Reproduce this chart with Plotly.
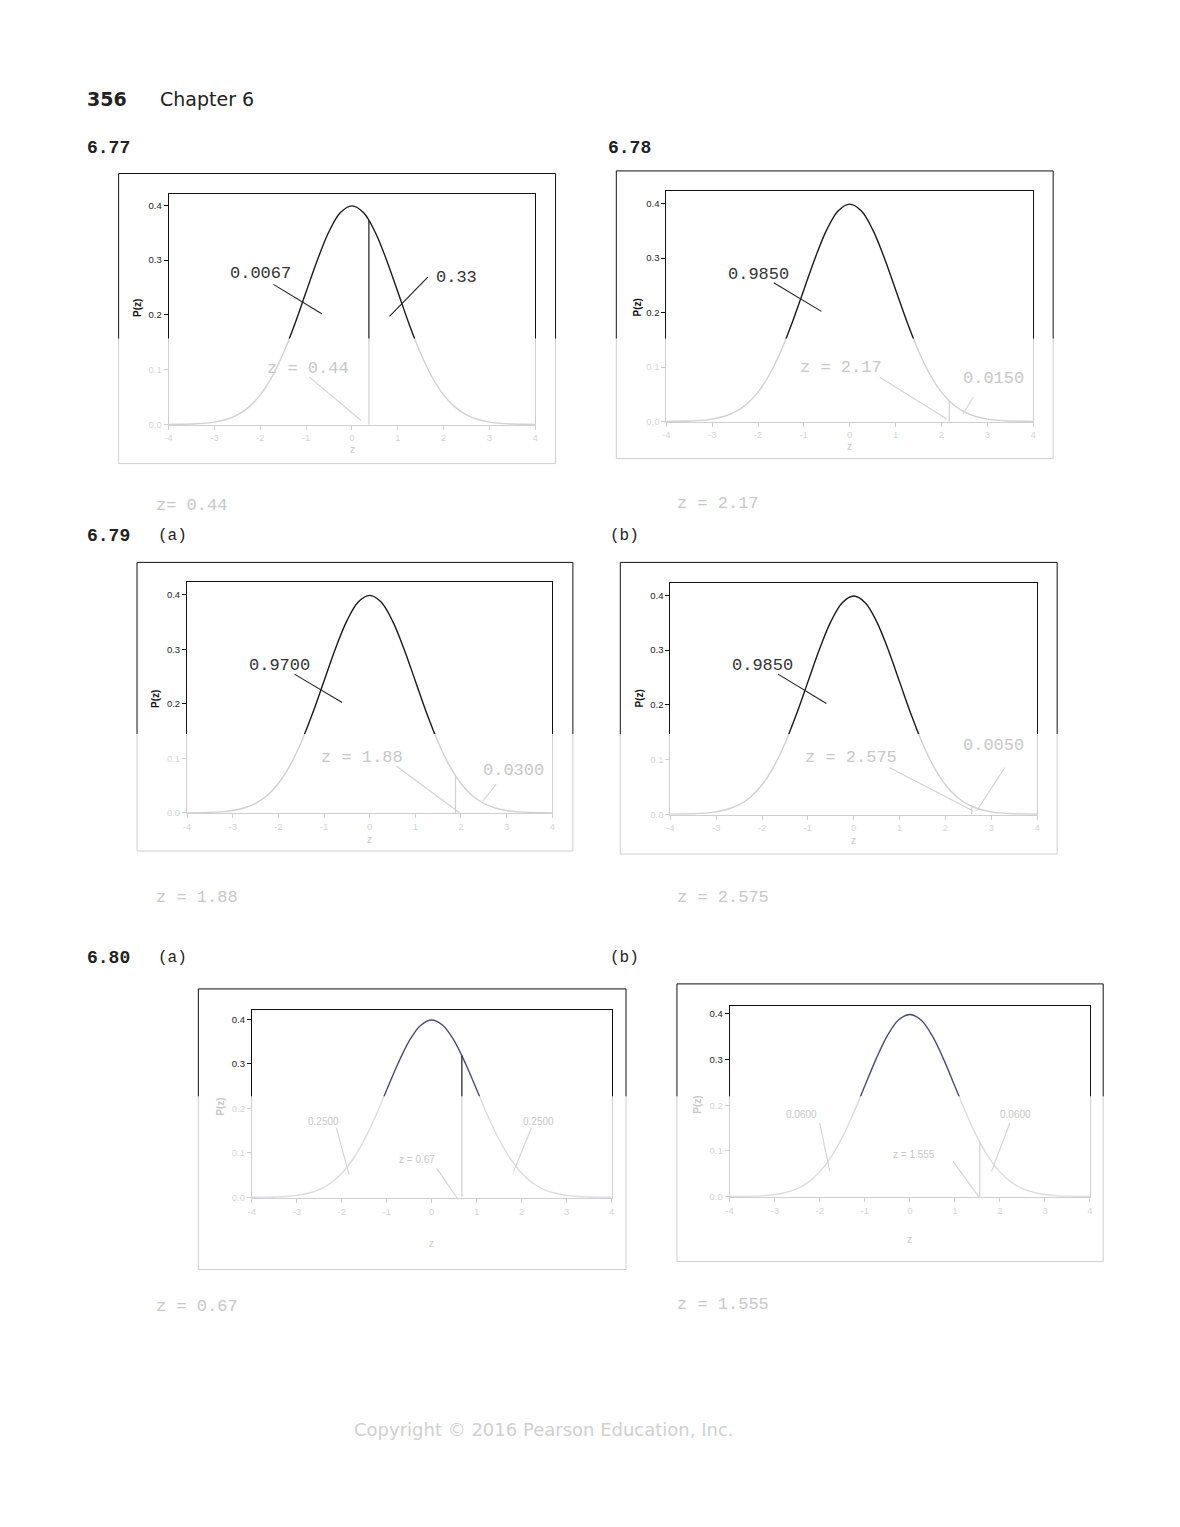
import plotly.graph_objects as go

## page size; the browser puts an 8px margin round the figure
PAGE_W, PAGE_H = 1180, 1527
PAD = 8
FIG_W, FIG_H = PAGE_W - 2 * PAD, PAGE_H - 2 * PAD

## standard normal curve at steps of 0.25
z_vals = [-4.0, -3.75, -3.5, -3.25, -3.0, -2.75, -2.5, -2.25, -2.0, -1.75, -1.5, -1.25, -1.0, -0.75, -0.5, -0.25,
          0.0, 0.25, 0.5, 0.75, 1.0, 1.25, 1.5, 1.75, 2.0, 2.25, 2.5, 2.75, 3.0, 3.25, 3.5, 3.75, 4.0]
pz_vals = [0.0001, 0.0004, 0.0009, 0.0020, 0.0044, 0.0091, 0.0175, 0.0317, 0.0540, 0.0863, 0.1295, 0.1826,
           0.2420, 0.3011, 0.3521, 0.3867, 0.3989, 0.3867, 0.3521, 0.3011, 0.2420, 0.1826, 0.1295, 0.0863,
           0.0540, 0.0317, 0.0175, 0.0091, 0.0044, 0.0020, 0.0009, 0.0004, 0.0001]
x_ticks = [-4, -3, -2, -1, 0, 1, 2, 3, 4]
x_tick_text = ["-4", "-3", "-2", "-1", "0", "1", "2", "3", "4"]
y_ticks = [0.0, 0.1, 0.2, 0.3, 0.4]
y_tick_text = ["0.0", "0.1", "0.2", "0.3", "0.4"]

## one entry per panel: 6.77, 6.78, 6.79(a), 6.79(b), 6.80(a), 6.80(b)
panel_ids = ["6.77", "6.78", "6.79a", "6.79b", "6.80a", "6.80b"]
cut_z = [0.37, 2.17, 1.88, 2.575, 0.67, 1.555]
cut_pz = [0.372, 0.038, 0.068, 0.015, 0.319, 0.119]
left_area = ["0.0067", "0.9850", "0.9700", "0.9850", "0.2500", "0.0600"]
right_area = ["0.33", "0.0150", "0.0300", "0.0050", "0.2500", "0.0600"]
z_label = ["z = 0.44", "z = 2.17", "z = 1.88", "z = 2.575", "z = 0.67", "z = 1.555"]
answers = ["z= 0.44", "z = 2.17", "z = 1.88", "z = 2.575", "z = 0.67", "z = 1.555"]

## page pixels -> paper (small correction measured from the first render)
def fx(px):
    px = (px - 4.8) / 0.9934
    return (px - PAD) / FIG_W

def fy(py):
    py = py / 0.9955
    return 1 - (py - PAD) / FIG_H

FADE = "#c8c8c8"
INK = "#333333"

## layout of each panel in page pixels
## outer frame, inner plot box, y range, label spots (left x, mid y) and leader lines
geo = [
    dict(outer=(119.3, 173.3, 556, 463), inner=(169.3, 193.3, 535.7, 424.5), yr=(-0.001, 0.4213),
         lab_l=(231, 273.3, INK), lead_l=(274, 284, 322.3, 313.3),
         lab_r=(436, 276.7, INK), lead_r=(428.3, 276.7, 390, 316),
         lab_z=(268, 368, FADE), lead_z=(310, 376.7, 361.7, 420),
         ans=(157, 505), xt=(352.7, 449), yt=(138.3, 308, "#111"), excel=False),
    dict(outer=(616.7, 170.7, 1053.3, 458), inner=(666.7, 191, 1033.3, 421.5), yr=(-0.001, 0.4226),
         lab_l=(728.3, 274, INK), lead_l=(774, 282.3, 821.7, 311),
         lab_r=(963.3, 378, FADE), lead_r=(973.3, 396.7, 963.3, 413.3),
         lab_z=(800, 366.7, FADE), lead_z=(880, 376.7, 946.7, 418.3),
         ans=(677, 503), xt=(850, 446), yt=(637.7, 306.7, "#111"), excel=False),
    dict(outer=(137.7, 561.7, 573.3, 850), inner=(187.7, 581.7, 552.7, 812.5), yr=(-0.001, 0.4226),
         lab_l=(249.3, 664.3, INK), lead_l=(295, 673.3, 342.7, 701.7),
         lab_r=(483.3, 770, FADE), lead_r=(496.7, 783.3, 483.3, 800),
         lab_z=(321.7, 756.7, FADE), lead_z=(396.7, 765, 460, 811.7),
         ans=(157, 896.7), xt=(370, 838), yt=(156, 697.7, "#111"), excel=False),
    dict(outer=(620.7, 561.7, 1057.3, 853), inner=(670.7, 582.3, 1037.3, 813.8), yr=(-0.001, 0.4227),
         lab_l=(732.7, 664.3, INK), lead_l=(778.3, 673.3, 826.7, 702.7),
         lab_r=(963.3, 745, FADE), lead_r=(1005, 766.7, 976.7, 810),
         lab_z=(805, 757, FADE), lead_z=(890, 766.7, 973.3, 810),
         ans=(677, 896.7), xt=(854, 839), yt=(640, 698, "#111"), excel=False),
    dict(outer=(199, 987.7, 626.4, 1268), inner=(252.5, 1008.3, 612, 1197), yr=(-0.0025, 0.4225),
         lab_l=(308.6, 1120, FADE), lead_l=(337, 1126.7, 349.6, 1173.3),
         lab_r=(523, 1120, FADE), lead_r=(531.8, 1126.7, 514, 1170),
         lab_z=(399.6, 1158, FADE), lead_z=(437, 1166.7, 458.6, 1198),
         ans=(157, 1305), xt=(431.8, 1241.7), yt=(221, 1105, FADE), excel=True),
    dict(outer=(677.3, 982.7, 1103.3, 1260), inner=(730, 1005, 1090, 1196), yr=(-0.002, 0.4169),
         lab_l=(786.7, 1113.3, FADE), lead_l=(820, 1121.7, 830, 1170),
         lab_r=(1000, 1113.3, FADE), lead_r=(1010, 1121.7, 991.7, 1170),
         lab_z=(893, 1153.3, FADE), lead_z=(953.3, 1160, 980, 1196.7),
         ans=(677, 1303), xt=(909.3, 1238.3), yt=(697.7, 1103, FADE), excel=True),
]

## regions of the page that are washed out
fade_boxes = [(110, 338, 1068, 472), (130, 733, 1066, 862), (188, 1095, 1115, 1280)]

fig = go.Figure()
shapes = []
annos = []

def add_text(text, px, py, font, xanchor="left", angle=0):
    annos.append(dict(x=fx(px), y=fy(py), xref="paper", yref="paper", text=text, showarrow=False,
                      xanchor=xanchor, yanchor="middle", textangle=angle, borderpad=0, borderwidth=0,
                      font=font))

for i, g in enumerate(geo):
    n = "" if i == 0 else str(i + 1)
    curve_col = "#4a4a80" if g["excel"] else "#1a1a1a"
    tick_font = dict(family="Liberation Sans", size=9.5, color="#222")

    fig.add_trace(go.Scatter(x=z_vals, y=pz_vals, mode="lines",
                             line=dict(shape="spline", color=curve_col, width=1.4),
                             xaxis="x" + n, yaxis="y" + n, showlegend=False, hoverinfo="skip"))
    fig.add_trace(go.Scatter(x=[cut_z[i], cut_z[i]], y=[0, cut_pz[i]], mode="lines",
                             line=dict(color="#1a1a1a", width=1.2),
                             xaxis="x" + n, yaxis="y" + n, showlegend=False, hoverinfo="skip"))

    l, t, r, b = g["inner"]
    fig.layout["xaxis" + n] = dict(domain=[fx(l), fx(r)], range=[-4, 4], anchor="y" + n,
                                   showline=True, mirror=True, linecolor="#111", linewidth=1,
                                   ticks="outside", ticklen=4, tickcolor="#111", tickvals=x_ticks,
                                   ticktext=x_tick_text, showgrid=False, zeroline=False,
                                   tickfont=tick_font, fixedrange=True)
    fig.layout["yaxis" + n] = dict(domain=[fy(b), fy(t)], range=list(g["yr"]), anchor="x" + n,
                                   showline=True, mirror=True, linecolor="#111", linewidth=1,
                                   ticks="outside", ticklen=4, tickcolor="#111", tickvals=y_ticks,
                                   ticktext=y_tick_text, showgrid=False, zeroline=False,
                                   tickfont=tick_font, fixedrange=True)

    ## outer frame
    ol, ot, orr, ob = g["outer"]
    shapes.append(dict(type="rect", xref="paper", yref="paper", x0=fx(ol), x1=fx(orr), y0=fy(ob), y1=fy(ot),
                       line=dict(color="#111", width=1), layer="above"))

    ## area labels and their leader lines
    if g["excel"]:
        lab_font = dict(family="Liberation Sans", size=10)
    else:
        lab_font = dict(family="Liberation Mono", size=17)
    for key, lead, text in [("lab_l", "lead_l", left_area[i]), ("lab_r", "lead_r", right_area[i]),
                            ("lab_z", "lead_z", z_label[i])]:
        ax_, ay_, col = g[key]
        add_text(text, ax_, ay_, dict(lab_font, color=col))
        x0, y0, x1, y1 = g[lead]
        shapes.append(dict(type="line", xref="paper", yref="paper", x0=fx(x0), y0=fy(y0), x1=fx(x1), y1=fy(y1),
                           line=dict(color="#222", width=1.1), layer="above"))

    ## axis titles
    add_text("z", g["xt"][0], g["xt"][1], dict(family="Liberation Sans", size=10, color=FADE), xanchor="center")
    add_text("<b>P(z)</b>", g["yt"][0], g["yt"][1], dict(family="Liberation Sans", size=10, color=g["yt"][2]),
             xanchor="center", angle=-90)

    ## answer line under the panel
    add_text(answers[i], g["ans"][0], g["ans"][1], dict(family="Liberation Mono", size=17, color=FADE))

## washed-out bands go on top of everything drawn so far
for (l, t, r, b) in fade_boxes:
    shapes.append(dict(type="rect", xref="paper", yref="paper", x0=fx(l), x1=fx(r), y0=fy(b), y1=fy(t),
                       fillcolor="white", opacity=0.8, line=dict(width=0), layer="above"))

## page text
page_text = [
    ("<b>356</b>", 88, 99, "DejaVu Sans", 19, "#222"),
    ("Chapter 6", 161, 99, "DejaVu Sans", 19, "#222"),
    ("<b>6.77</b>", 88, 148, "Liberation Mono", 18, "#222"),
    ("<b>6.78</b>", 608, 148, "Liberation Mono", 18, "#222"),
    ("<b>6.79</b>", 88, 535, "Liberation Mono", 18, "#222"),
    ("(a)", 159, 535, "Liberation Mono", 16, "#222"),
    ("(b)", 610, 535, "Liberation Mono", 16, "#222"),
    ("<b>6.80</b>", 88, 957, "Liberation Mono", 18, "#222"),
    ("(a)", 159, 957, "Liberation Mono", 16, "#222"),
    ("(b)", 610, 957, "Liberation Mono", 16, "#222"),
    ("Copyright © 2016 Pearson Education, Inc.", 355, 1428, "DejaVu Sans", 18, "#d0d0d0"),
]
for text, px, py, fam, size, col in page_text:
    add_text(text, px, py, dict(family=fam, size=size, color=col))

fig.update_layout(width=FIG_W, height=FIG_H, margin=dict(l=0, r=0, t=0, b=0),
                  paper_bgcolor="white", plot_bgcolor="white",
                  shapes=shapes, annotations=annos, showlegend=False)

fig.write_html("out.html")
